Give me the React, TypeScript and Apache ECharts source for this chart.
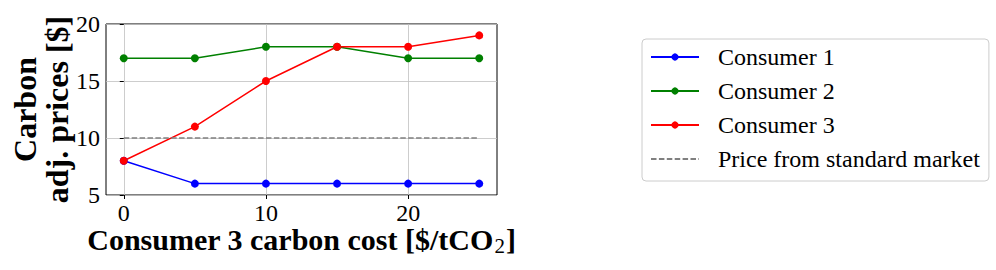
import React, { useEffect, useRef } from "react";
import * as echarts from "echarts";

const carbonCost = [0, 5, 10, 15, 20, 25];
const consumer1 = [8, 6, 6, 6, 6, 6];
const consumer2 = [17, 17, 18, 18, 17, 17];
const consumer3 = [8, 11, 15, 18, 18, 19];
const standardPrice = [10, 10, 10, 10, 10, 10];
const xTicks = [0, 10, 20];
const seriesNames = ["Consumer 1", "Consumer 2", "Consumer 3", "Price from standard market"];

const FONT = "Liberation Serif, Times New Roman, serif";

export default function App() {
  const ref = useRef<HTMLDivElement>(null);
  useEffect(() => {
    if (!ref.current) return;
    const chart = echarts.init(ref.current, null, { renderer: "svg" });
    const pair = (ys: number[]) => carbonCost.map((x, i) => [x, ys[i]]);
    const lineSeries = (name: string, ys: number[], color: string) => ({
      name,
      type: "line",
      data: pair(ys),
      symbol: "circle",
      symbolSize: 8,
      showSymbol: true,
      itemStyle: { color },
      lineStyle: { color, width: 1.5 },
      emphasis: { disabled: true },
    });
    chart.setOption({
      animation: false,
      backgroundColor: "#fff",
      textStyle: { fontFamily: FONT },
      grid: {
        left: 106,
        top: 24,
        width: 391,
        height: 171,
        show: true,
        borderColor: "#000",
        borderWidth: 1,
        backgroundColor: "transparent",
        containLabel: false,
        outerBoundsMode: "none",
      },
      legend: {
        orient: "vertical",
        left: 642,
        top: 39,
        data: [
          seriesNames[0],
          seriesNames[1],
          seriesNames[2],
          { name: seriesNames[3], itemStyle: { color: "transparent", borderWidth: 0, opacity: 0 } },
        ],
        itemWidth: 48,
        itemHeight: 9,
        itemGap: 8,
        padding: [5, 9, 9, 8],
        borderColor: "#cccccc",
        borderWidth: 1,
        borderRadius: 4,
        backgroundColor: "#fff",
        textStyle: {
          fontFamily: FONT,
          fontSize: 24,
          color: "#000",
          lineHeight: 26,
          padding: [0, 0, 0, 14],
        },
      },
      xAxis: {
        type: "value",
        min: -1.25,
        max: 26.25,
        name: "{a|Consumer 3 carbon cost [$/tCO}{s|2}{a|]}",
        nameLocation: "middle",
        nameGap: 32,
        nameMoveOverlap: false,
        nameTextStyle: {
          rich: {
            a: { fontFamily: FONT, fontSize: 30, fontWeight: "bold", color: "#000", lineHeight: 24 },
            s: { fontFamily: FONT, fontSize: 21, fontWeight: "normal", color: "#000", lineHeight: 10, padding: [14, 1, 0, 1] },
          },
        },
        axisLine: { show: false },
        axisTick: { show: true, customValues: xTicks, length: 4, lineStyle: { color: "#000", width: 1 } },
        axisLabel: { customValues: xTicks, fontFamily: FONT, fontSize: 24, lineHeight: 20, color: "#000", margin: 8 },
        splitLine: { show: true, customValues: xTicks, lineStyle: { color: "#c0c0c0", width: 0.8 } },
      },
      yAxis: {
        type: "value",
        min: 5,
        max: 20,
        interval: 5,
        name: "Carbon\nadj. prices [$]",
        nameLocation: "middle",
        nameGap: 33,
        nameMoveOverlap: false,
        nameTextStyle: { fontFamily: FONT, fontSize: 32, fontWeight: "bold", color: "#000", lineHeight: 32 },
        axisLine: { show: false },
        axisTick: { show: true, length: 4, lineStyle: { color: "#000", width: 1 } },
        axisLabel: { fontFamily: FONT, fontSize: 24, color: "#000", margin: 6 },
        splitLine: { show: true, lineStyle: { color: "#c0c0c0", width: 0.8 } },
      },
      series: [
        lineSeries(seriesNames[0], consumer1, "#0000ff"),
        lineSeries(seriesNames[1], consumer2, "#008000"),
        lineSeries(seriesNames[2], consumer3, "#ff0000"),
        {
          name: seriesNames[3],
          type: "line",
          data: pair(standardPrice),
          symbol: "none",
          showSymbol: false,
          itemStyle: { color: "#808080" },
          lineStyle: { color: "#808080", width: 1.5, type: [5.5, 2.4] },
          emphasis: { disabled: true },
        },
      ],
    });
    return () => chart.dispose();
  }, []);
  return (
    <div
      ref={ref}
      style={{ position: "absolute", left: 0, top: 0, width: 996, height: 270 }}
    />
  );
}
